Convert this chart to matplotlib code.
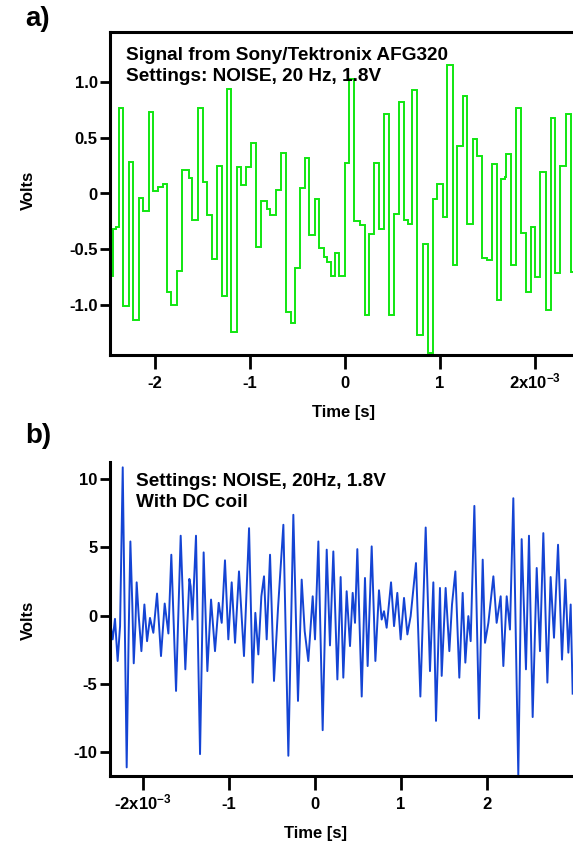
import matplotlib
matplotlib.use('Agg')
import matplotlib.pyplot as plt
import numpy as np

plt.rcParams['font.family'] = ['Liberation Sans', 'DejaVu Sans']
plt.rcParams['font.weight'] = 'bold'
plt.rcParams['axes.labelweight'] = 'bold'
plt.rcParams['mathtext.fontset'] = 'custom'
plt.rcParams['mathtext.rm'] = 'Liberation Sans:bold'
plt.rcParams['mathtext.bf'] = 'Liberation Sans:bold'
plt.rcParams['mathtext.default'] = 'bf'

# ---------------- Panel a data: step signal (time in ms, volts) ----------------
step_start_ms = [-2.474, -2.442, -2.411, -2.384, -2.334, -2.279, -2.232, -2.172, -2.123, -2.066,
                 -2.018, -1.968, -1.916, -1.871, -1.828, -1.768, -1.716, -1.645, -1.611, -1.547,
                 -1.498, -1.449, -1.400, -1.347, -1.298, -1.245, -1.197, -1.140, -1.092, -1.042,
                 -0.989, -0.937, -0.887, -0.824, -0.789, -0.726, -0.677, -0.621, -0.572, -0.523,
                 -0.474, -0.424, -0.376, -0.319, -0.271, -0.221, -0.186, -0.151, -0.108, -0.063,
                 0.003, 0.039, 0.092, 0.161, 0.214, 0.256, 0.302, 0.355, 0.407, 0.460,
                 0.513, 0.565, 0.618, 0.663, 0.705, 0.761, 0.824, 0.877, 0.923, 0.972,
                 1.028, 1.077, 1.134, 1.182, 1.239, 1.287, 1.344, 1.386, 1.442, 1.492,
                 1.544, 1.597, 1.645, 1.679, 1.698, 1.751, 1.803, 1.856, 1.908, 1.955,
                 2.003, 2.053, 2.113, 2.165, 2.214, 2.266, 2.323, 2.376]
step_end_ms = 2.40
step_volts = [-0.74, -0.32, -0.30, 0.77, -1.01, 0.28, -1.13, -0.04, -0.16, 0.73,
              0.02, 0.06, 0.085, -0.88, -1.00, -0.69, 0.21, 0.135, -0.24, 0.77,
              0.105, -0.19, -0.59, 0.245, -0.92, 0.94, -1.24, 0.24, 0.076, 0.24,
              0.45, -0.48, -0.07, -0.14, -0.19, 0.03, 0.365, -1.06, -1.16, -0.67,
              0.046, 0.32, -0.37, -0.05, -0.49, -0.565, -0.61, -0.74, -0.535, -0.74,
              0.275, 1.03, -0.25, -0.28, -1.09, -0.36, 0.27, -0.32, 0.71, -1.09,
              -0.18, 0.82, -0.24, -0.27, 0.93, -1.27, -0.45, -1.43, -0.05, 0.085,
              -0.21, 1.15, -0.64, 0.43, 0.87, -0.27, 0.485, 0.34, -0.58, -0.60,
              0.26, -0.95, 0.13, 0.15, 0.35, -0.64, 0.77, -0.35, -0.88, -0.30,
              -0.75, 0.19, -1.04, 0.68, -0.71, 0.25, 0.71, -0.70]

# ---------------- Panel b data: coil signal (time in ms, volts) ----------------
coil_t_ms = [-2.376, -2.353, -2.326, -2.295, -2.267, -2.236, -2.190, -2.167, -2.147, -2.124,
             -2.108, -2.089, -2.074, -2.050, -2.019, -1.984, -1.953, -1.919, -1.880, -1.837,
             -1.791, -1.748, -1.705, -1.671, -1.616, -1.562, -1.508, -1.461, -1.446, -1.426,
             -1.384, -1.337, -1.295, -1.252, -1.209, -1.163, -1.120, -1.085, -1.047, -1.008,
             -0.969, -0.930, -0.884, -0.826, -0.767, -0.725, -0.694, -0.659, -0.624, -0.593,
             -0.562, -0.523, -0.477, -0.430, -0.368, -0.310, -0.252, -0.198, -0.155, -0.120,
             -0.078, -0.027, 0.000, 0.039, 0.089, 0.136, 0.174, 0.213, 0.260, 0.298,
             0.329, 0.368, 0.407, 0.438, 0.465, 0.492, 0.543, 0.581, 0.612, 0.659,
             0.702, 0.744, 0.775, 0.802, 0.833, 0.884, 0.919, 0.957, 0.996, 1.035,
             1.074, 1.112, 1.174, 1.225, 1.287, 1.337, 1.376, 1.407, 1.453, 1.473,
             1.519, 1.562, 1.593, 1.632, 1.678, 1.717, 1.748, 1.783, 1.810, 1.853,
             1.907, 1.950, 1.977, 2.016, 2.074, 2.112, 2.159, 2.190, 2.229, 2.267,
             2.306, 2.364, 2.403, 2.453, 2.488, 2.531, 2.578, 2.616, 2.655, 2.702,
             2.740, 2.779, 2.826, 2.872, 2.911, 2.946, 2.973, 2.996]
coil_volts = [-0.71, -1.73, -0.23, -3.31, -0.76, 10.85, -11.09, -1.37, 5.43, 0.69,
              -3.48, -0.76, 2.44, -0.03, -2.59, 0.82, -1.86, -0.16, -1.25, 1.62,
              -2.95, 0.89, -1.30, 4.46, -5.50, 5.85, -3.92, 2.69, 2.15, -0.28,
              5.85, -10.12, 4.63, -4.05, 1.18, -2.59, 0.94, -0.52, 4.05, -1.73,
              2.44, -1.98, 3.24, -2.95, 6.40, -4.89, 0.21, -2.83, 1.42, 2.88,
              -1.73, 4.46, -4.77, 0.57, 6.65, -10.24, 7.38, -6.23, 2.64, -1.13,
              -3.31, 1.42, -1.73, 5.43, -8.37, 4.83, -2.17, 4.70, -4.66, 2.83,
              -4.53, 1.79, -2.22, 1.67, -0.52, 4.87, -5.91, 2.76, -3.68, 5.07,
              -3.31, 1.86, -0.28, 0.33, -0.88, 2.44, -0.76, 1.67, -1.73, 1.30,
              -1.37, -0.03, 3.85, -5.91, 6.45, -4.05, 2.44, -7.69, 2.03, -4.40,
              2.03, -2.59, 0.82, 3.24, -4.53, 1.67, -3.43, -0.03, -1.86, 8.03,
              -7.51, 4.10, -1.98, -0.52, 2.88, -0.52, 1.42, -3.68, 1.42, -1.01,
              8.59, -11.70, 5.60, -3.92, 5.85, -7.41, 3.49, -2.59, 6.04, -4.89,
              2.83, -1.61, 5.19, -3.21, 2.64, -2.70, 0.82, -5.70]

# ---------------- Ticks / labels ----------------
a_xticks = [-2, -1, 0, 1, 2]
a_xticklabels = ['-2', '-1', '0', '1', r'2x10$^{-3}$']
a_yticks = [-1.0, -0.5, 0.0, 0.5, 1.0]
a_yticklabels = ['-1.0', '-0.5', '0', '0.5', '1.0']
b_xticks = [-2, -1, 0, 1, 2]
b_xticklabels = [r'-2x10$^{-3}$', '-1', '0', '1', '2']
b_yticks = [-10, -5, 0, 5, 10]
b_yticklabels = ['-10', '-5', '0', '5', '10']

W, H = 573, 847
fig = plt.figure(figsize=(W / 100, H / 100), dpi=100)

def px_axes(left, top, right, bottom):
    return fig.add_axes([left / W, 1 - bottom / H, (right - left) / W, (bottom - top) / H])

def style(ax, top_spine):
    for s in ['left', 'bottom', 'top']:
        ax.spines[s].set_linewidth(2.2)
    ax.spines['right'].set_visible(False)
    ax.spines['top'].set_visible(top_spine)
    ax.tick_params(direction='out', width=2, labelsize=12)
    ax.tick_params(axis='y', length=7, pad=2)
    ax.tick_params(axis='x', length=10, pad=14)
    for lab in ax.get_xticklabels():
        lab.set_verticalalignment('baseline')
    for lab in ax.get_xticklabels() + ax.get_yticklabels():
        lab.set_fontweight('bold')

# Panel a
A_L, A_T, A_R, A_B = 110, 32, 573, 355
axa = px_axes(A_L, A_T, A_R, A_B)
edges = list(step_start_ms) + [step_end_ms]
axa.stairs(step_volts, edges, color='#11e611', lw=1.4, baseline=None)
axa.set_xlim(-2.474, 2.40)
axa.set_ylim(-1.447, 1.447)
axa.set_xticks(a_xticks)
axa.set_xticklabels(a_xticklabels)
axa.set_yticks(a_yticks)
axa.set_yticklabels(a_yticklabels)
style(axa, True)
axa.set_xlabel('Time [s]', fontsize=12, fontweight='bold')
axa.xaxis.set_label_coords((343 - A_L) / (A_R - A_L), (A_B - 405) / (A_B - A_T))
axa.set_ylabel('Volts', fontsize=12, fontweight='bold')
axa.yaxis.set_label_coords((36 - A_L) / (A_R - A_L), (A_B - 190) / (A_B - A_T))
axa.text((126 - A_L) / (A_R - A_L), 1 - (47 - A_T) / (A_B - A_T),
         'Signal from Sony/Tektronix AFG320\nSettings: NOISE, 20 Hz, 1.8V',
         transform=axa.transAxes, fontsize=13.7, fontweight='bold', va='top', ha='left',
         linespacing=1.3)

# Panel b
B_L, B_T, B_R, B_B = 110, 462, 573, 776
axb = px_axes(B_L, B_T, B_R, B_B)
axb.plot(coil_t_ms, coil_volts, color='#1444d4', lw=1.4)
axb.set_xlim(-2.384, 3.0)
axb.set_ylim(-11.72, 11.24)
axb.set_xticks(b_xticks)
axb.set_xticklabels(b_xticklabels)
axb.set_yticks(b_yticks)
axb.set_yticklabels(b_yticklabels)
style(axb, False)
axb.set_xlabel('Time [s]', fontsize=12, fontweight='bold')
axb.xaxis.set_label_coords((315 - B_L) / (B_R - B_L), (B_B - 826) / (B_B - B_T))
axb.set_ylabel('Volts', fontsize=12, fontweight='bold')
axb.yaxis.set_label_coords((36 - B_L) / (B_R - B_L), (B_B - 620) / (B_B - B_T))
axb.text((136 - B_L) / (B_R - B_L), 1 - (473 - B_T) / (B_B - B_T),
         'Settings: NOISE, 20Hz, 1.8V\nWith DC coil',
         transform=axb.transAxes, fontsize=13.7, fontweight='bold', va='top', ha='left',
         linespacing=1.3)

fig.text(25 / W, 1 - 6 / H, 'a)', fontsize=20, fontweight='bold', va='top', ha='left')
fig.text(25 / W, 1 - 423 / H, 'b)', fontsize=20, fontweight='bold', va='top', ha='left')

fig.savefig('out.png', dpi=100)
